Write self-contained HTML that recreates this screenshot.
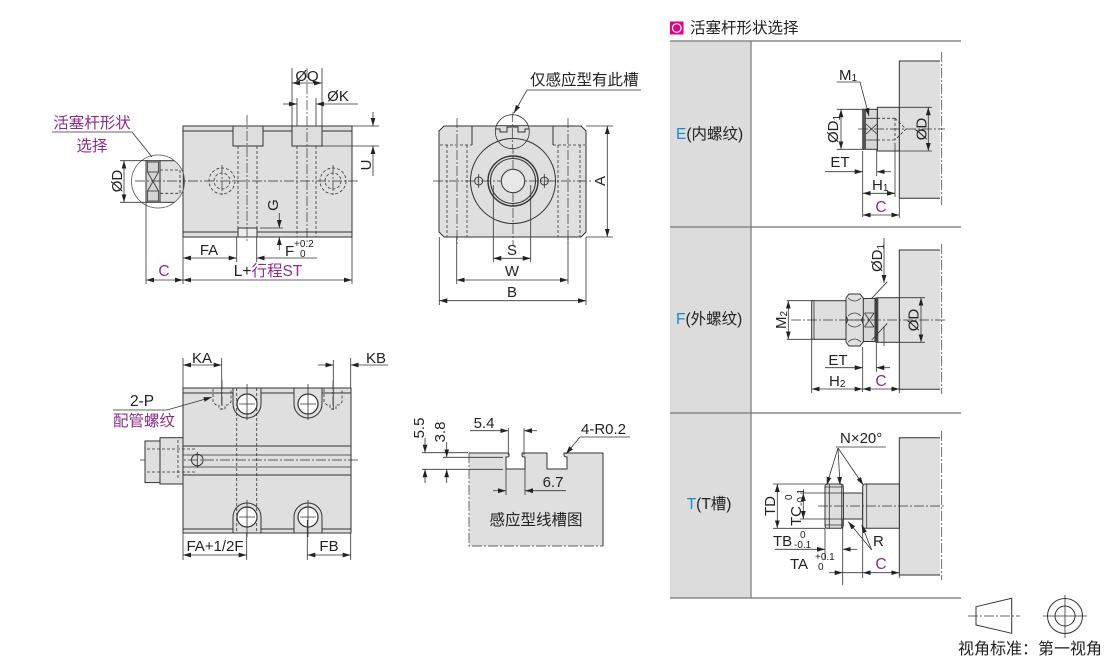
<!DOCTYPE html>
<html><head><meta charset="utf-8"><style>
html,body{margin:0;padding:0;background:#fff;}
svg{display:block;}
text{font-family:"Liberation Sans","Noto Sans CJK SC",sans-serif;font-size:15px;fill:#222;}
.cj{font-size:15.5px;}
.p{fill:#8c2d8c;}
.b{fill:#1a8ad0;}
.o{stroke:#333;stroke-width:1;fill:none;}
.g{fill:#dfdfdf;stroke:#333;stroke-width:1;}
.d{stroke:#333;stroke-width:0.8;fill:none;}
.dash{stroke:#333;stroke-width:0.8;stroke-dasharray:3 2;fill:none;}
.cl{stroke:#333;stroke-width:0.7;stroke-dasharray:10 2 2 2;fill:none;}
.ar{marker-end:url(#a);}
.ar2{marker-start:url(#a);marker-end:url(#a);}
.s{font-size:10px;}
</style></head><body>
<svg width="1110" height="659" viewBox="0 0 1110 659" xmlns="http://www.w3.org/2000/svg">
<defs>
<marker id="a" viewBox="0 0 8 6" refX="8" refY="3" markerWidth="8" markerHeight="6" orient="auto-start-reverse" markerUnits="userSpaceOnUse"><path d="M0,0.6 L8,3 L0,5.4z" fill="#222"/></marker>
<clipPath id="mag"><circle cx="158" cy="181.5" r="26.5"/></clipPath>
<clipPath id="mag2"><circle cx="512.3" cy="131.7" r="17"/></clipPath>
</defs>

<!-- ============ TOP-LEFT SIDE VIEW ============ -->
<rect x="183" y="126" width="169" height="111" class="g"/>
<path class="o" d="M183,131H233 M263,131H292 M322,131H352 M183,232H238 M257,232H352"/>
<rect x="233" y="126" width="30" height="20" class="g"/>
<rect x="292" y="126" width="30" height="20" class="g"/>
<rect x="238" y="228" width="19" height="9" fill="#ececec" stroke="#333"/>
<path class="dash" d="M238,146V228 M257,146V228 M297,146V237 M316,146V237"/>
<path class="cl" d="M247,115V242 M307,68V242 M140,181H358 M222,165V197 M333,165V197"/>
<circle cx="222" cy="181" r="13" class="dash"/><circle cx="222" cy="181" r="8" class="dash"/>
<circle cx="333" cy="181" r="13" class="dash"/><circle cx="333" cy="181" r="8" class="dash"/>
<!-- magnifier -->
<circle cx="158" cy="181.5" r="26.5" fill="#fff"/>
<g clip-path="url(#mag)">
<rect x="183" y="150" width="10" height="70" fill="#dfdfdf"/>
<line x1="183.3" y1="150" x2="183.3" y2="215" class="o"/>
<rect x="146" y="160.7" width="14" height="41.6" fill="#d4d4d4" stroke="#333"/>
<rect x="147.5" y="162" width="11" height="10" fill="none" stroke="#333" stroke-width="0.8"/>
<rect x="147.5" y="191" width="11" height="10" fill="none" stroke="#333" stroke-width="0.8"/>
<path class="d" d="M147.5,172L158.5,191 M158.5,172L147.5,191"/>
<rect x="160" y="160.7" width="23.3" height="41.6" fill="#dfdfdf" stroke="#333"/>
<path class="dash" d="M160,170H180V193.3H160"/>
<path class="d" d="M183,172 Q190,181 183,191"/>
<path class="cl" d="M135,181H190"/>
</g>
<circle cx="158" cy="181.5" r="26.5" fill="none" stroke="#555" stroke-width="0.8"/>
<text x="92" y="128" text-anchor="middle" class="cj p">活塞杆形状</text>
<text x="92" y="151" text-anchor="middle" class="cj p">选择</text>
<path class="d" d="M52,132H132L152,157"/>
<!-- ØD -->
<path class="d" d="M120,160.7H148 M120,202.3H148"/>
<line x1="124" y1="160.7" x2="124" y2="202.3" class="d ar2"/>
<text transform="translate(122,181) rotate(-90)" text-anchor="middle">ØD</text>
<!-- U -->
<path class="d" d="M352,126H379 M322,146H379"/>
<line x1="373" y1="112" x2="373" y2="126" class="d ar"/>
<line x1="373" y1="176" x2="373" y2="146" class="d ar"/>
<text transform="translate(371,165) rotate(-90)" text-anchor="middle">U</text>
<!-- ØQ / ØK -->
<path class="d" d="M292,68V126 M322,68V126"/>
<line x1="292" y1="83" x2="322" y2="83" class="d ar2"/>
<text x="307" y="81" text-anchor="middle">ØQ</text>
<path class="d" d="M297,98V126 M316,98V126"/>
<line x1="283" y1="104" x2="297" y2="104" class="d ar"/>
<line x1="358" y1="104" x2="316" y2="104" class="d ar"/>
<text x="338" y="101" text-anchor="middle">ØK</text>
<!-- G / F -->
<text transform="translate(278,205) rotate(-90)" text-anchor="middle">G</text>
<line x1="279.3" y1="213" x2="279.3" y2="228" class="d ar"/>
<line x1="279.3" y1="250" x2="279.3" y2="237" class="d ar"/>
<path class="d" d="M260,228H283"/>
<text x="285" y="256">F</text>
<text x="294" y="247" class="s">+0.2</text>
<text x="300" y="257" class="s">0</text>
<!-- FA -->
<path class="d" d="M236.7,237V262 M256.7,237V262"/>
<line x1="183" y1="258" x2="236.7" y2="258" class="d ar2"/>
<text x="209" y="255" text-anchor="middle">FA</text>
<line x1="317" y1="258" x2="256.7" y2="258" class="d ar"/>
<!-- L+ST, C -->
<path class="d" d="M146,203V284 M183,237V284 M352,237V284"/>
<line x1="183" y1="280" x2="352" y2="280" class="d ar2"/>
<line x1="146" y1="280" x2="183" y2="280" class="d ar2"/>
<text x="268" y="276" text-anchor="middle" style="font-size:15.5px">L+<tspan class="p">行程ST</tspan></text>
<text x="164" y="276" text-anchor="middle" class="p" style="font-size:15.5px">C</text>

<!-- ============ FRONT VIEW ============ -->
<path class="g" d="M444,126H581L586,131V232L581,237H444L439,232V131Z"/>
<path class="dash" d="M447,145V237 M467,145V237 M440,145H472 M558,145V237 M580,145V237 M553,145H585"/>
<path class="o" d="M472,126V145 M553,126V145"/>
<path class="cl" d="M457,118V245 M568,118V245 M433,181H593 M513,112V246"/>
<circle cx="513" cy="181" r="42.5" class="o"/>
<circle cx="513" cy="181" r="25" fill="none" stroke="#333" stroke-width="1.4"/>
<circle cx="513" cy="181" r="22.5" class="o"/>
<circle cx="513" cy="181" r="11.7" fill="#e8e8e8" stroke="#333"/>
<circle cx="478.7" cy="181" r="4" class="o"/>
<circle cx="544.3" cy="181" r="4" class="o"/>
<path class="d" d="M478.7,174V188 M544.3,174V188"/>
<!-- slot magnifier -->
<circle cx="512.3" cy="131.7" r="17" fill="#fff"/>
<g clip-path="url(#mag2)">
<rect x="490" y="126" width="45" height="30" fill="#dfdfdf"/>
<path class="o" d="M494,134 V129 H500 V132 H507 V127 H518 V132 H525 V129 H531 V134" fill="#fff"/>
<line x1="490" y1="125.7" x2="535" y2="125.7" class="o"/>
<circle cx="513" cy="181" r="42.5" class="o"/>
<path class="cl" d="M512.3,112V150"/>
</g>
<circle cx="512.3" cy="131.7" r="17" fill="none" stroke="#333" stroke-width="0.8"/>
<text x="530" y="85" class="cj">仅感应型有此槽</text>
<path class="d ar" d="M641,90H527L514,113"/>
<!-- A -->
<path class="d" d="M586,126H613 M586,237H613"/>
<line x1="607.3" y1="126" x2="607.3" y2="237" class="d ar2"/>
<text transform="translate(605,181) rotate(-90)" text-anchor="middle">A</text>
<!-- S W B -->
<path class="d" d="M493.3,185V262 M530.7,185V262 M456.7,237V284 M568,237V284 M439.3,237V305 M586,237V305"/>
<line x1="493.3" y1="258.3" x2="530.7" y2="258.3" class="d ar2"/>
<text x="512" y="255" text-anchor="middle">S</text>
<line x1="456.7" y1="280" x2="568" y2="280" class="d ar2"/>
<text x="512" y="276" text-anchor="middle">W</text>
<line x1="439.3" y1="300.7" x2="586" y2="300.7" class="d ar2"/>
<text x="512" y="297" text-anchor="middle">B</text>

<!-- ============ BOTTOM VIEW ============ -->
<rect x="183" y="388" width="168" height="145" class="g"/>
<path class="o" d="M183,393H233 M261,393H294 M322,393H351 M183,529H233 M261,529H294 M322,529H351"/>
<path class="o" d="M183,446H351 M183,475H351" />
<path class="d" d="M183,455H351 M183,467H351"/>
<path class="cl" d="M140,460H358"/>
<path class="dash" d="M236.7,388V533 M256.7,388V533"/>
<!-- bosses -->
<path class="o" fill="#e6e6e6" d="M233,388V404A14,14 0 0 0 261,404V388"/>
<path class="o" fill="#e6e6e6" d="M294,388V404A14,14 0 0 0 322,404V388"/>
<path class="o" fill="#e6e6e6" d="M233,533V517A14,14 0 0 1 261,517V533"/>
<path class="o" fill="#e6e6e6" d="M294,533V517A14,14 0 0 1 322,517V533"/>
<circle cx="247" cy="404" r="10" fill="#fff" stroke="#333" stroke-width="1.2"/>
<circle cx="308" cy="404" r="10" fill="#fff" stroke="#333" stroke-width="1.2"/>
<circle cx="247" cy="517" r="10" fill="#fff" stroke="#333" stroke-width="1.2"/>
<circle cx="308" cy="517" r="10" fill="#fff" stroke="#333" stroke-width="1.2"/>
<path class="d" d="M247,396V412 M239,404H255 M308,396V412 M300,404H316 M247,509V525 M239,517H255 M308,509V525 M300,517H316 M247,384V420 M308,384V420 M247,500V537 M308,500V537"/>
<!-- ports -->
<path class="dash" d="M213,389V402L216,405H219V409H225V405H228L231,402V389"/>
<path class="dash" d="M324,389V402L327,405H330V409H336V405H339L342,402V389"/>
<path class="cl" d="M222,380V412 M333,380V412"/>
<!-- rod -->
<rect x="160" y="437.7" width="23" height="46.3" class="g"/>
<rect x="145" y="441" width="15" height="41.6" class="g"/>
<path class="dash" d="M147,449H195 M147,472H195 M178,440V480"/>
<circle cx="197.3" cy="460" r="5.8" class="o"/>
<path class="d" d="M197.3,452V468"/>
<!-- KA KB -->
<path class="d" d="M183,358V388 M221.7,358V405 M333.3,360V410 M350.7,358V388"/>
<line x1="183" y1="365" x2="221.7" y2="365" class="d ar2"/>
<text x="202" y="363" text-anchor="middle">KA</text>
<line x1="318" y1="365" x2="333.3" y2="365" class="d ar"/>
<line x1="388" y1="365" x2="350.7" y2="365" class="d ar"/>
<text x="376" y="363" text-anchor="middle">KB</text>
<!-- 2-P -->
<text x="142" y="406" text-anchor="middle" style="font-size:15.5px">2-P</text>
<text x="113" y="426" class="cj p">配管螺纹</text>
<path class="d ar" d="M113,410H167L211.7,397.3"/>
<!-- FA+1/2F FB -->
<path class="d" d="M183,533V560 M246.7,533V560 M307.3,520V560 M350.7,533V560"/>
<line x1="183" y1="555" x2="246.7" y2="555" class="d ar2"/>
<text x="215" y="551" text-anchor="middle">FA+1/2F</text>
<line x1="307.3" y1="555" x2="350.7" y2="555" class="d ar2"/>
<text x="329" y="551" text-anchor="middle">FB</text>

<!-- ============ SLOT SECTION ============ -->
<path fill="#dfdfdf" d="M469,453H509V457H506V469H525V457H522V453H547V469H567V457L564,455V453H603V546H469Z"/>
<path class="o" d="M469,453H508Q509,453 509,455V456Q509,457 507,457H506V469H525V457H524Q522,457 522,455V453H547V469H567V457Q564,457 564,455V453H603V546"/>
<path class="cl" d="M469,453V546H603"/>
<path class="d" d="M422,452.7H468 M443,457.3H503 M422,469.3H503"/>
<line x1="425" y1="438" x2="425" y2="452.7" class="d ar"/>
<line x1="425" y1="483" x2="425" y2="469.3" class="d ar"/>
<text transform="translate(424,428) rotate(-90)" text-anchor="middle">5.5</text>
<line x1="446.7" y1="442" x2="446.7" y2="457.3" class="d ar"/>
<line x1="446.7" y1="483" x2="446.7" y2="469.3" class="d ar"/>
<text transform="translate(445,432) rotate(-90)" text-anchor="middle">3.8</text>
<path class="d" d="M508.3,428V455 M524,428V455 M506,457V495 M525,457V495"/>
<line x1="470" y1="430.7" x2="508.3" y2="430.7" class="d ar"/>
<line x1="537" y1="430.7" x2="524" y2="430.7" class="d ar"/>
<text x="484" y="428" text-anchor="middle">5.4</text>
<line x1="493" y1="490.7" x2="506" y2="490.7" class="d ar"/>
<line x1="566" y1="490.7" x2="525" y2="490.7" class="d ar"/>
<text x="553" y="487" text-anchor="middle">6.7</text>
<text x="581" y="434">4-R0.2</text>
<path class="d ar" d="M630,437H580L566,454"/>
<text x="536" y="525" text-anchor="middle" class="cj">感应型线槽图</text>

<!-- ============ RIGHT TABLE ============ -->
<rect x="670" y="21.5" width="13.5" height="13" fill="#e5007e"/>
<circle cx="676.8" cy="28" r="4.3" fill="none" stroke="#fff" stroke-width="1.2"/>
<text x="690" y="33" class="cj">活塞杆形状选择</text>
<rect x="670" y="41" width="81" height="557" fill="#dcdcdc"/>
<path stroke="#888" stroke-width="1.5" fill="none" d="M670,41H961 M670,227H961 M670,413H961 M670,598H961"/>
<path stroke="#777" stroke-width="1.2" d="M751,41V598"/>
<text x="676" y="139" class="cj"><tspan class="b">E</tspan>(内螺纹)</text>
<text x="676" y="324" class="cj"><tspan class="b">F</tspan>(外螺纹)</text>
<text x="686.7" y="509" class="cj"><tspan class="b">T</tspan>(T槽)</text>

<!-- Row E -->
<path fill="#dfdfdf" d="M899.3,61H940V198.3H899.3Z"/>
<path class="o" d="M940,61H899.3V198.3H940"/>
<path class="cl" d="M941.7,52V205"/>
<rect x="877.3" y="107.3" width="22" height="43.7" class="g"/>
<rect x="862.7" y="109.3" width="14.6" height="40" fill="#d8d8d8" stroke="#333"/>
<rect x="862.7" y="109.3" width="3.3" height="40" fill="#555"/>
<path class="d" d="M866,118.3H877 M866,140H877 M866,124L877,134 M877,124L866,134"/>
<path class="dash" d="M877,118.3H897 M877,140H897 M895,118.3L906,129L895,140 M895,118V140"/>
<path class="cl" d="M858,129H945"/>
<path class="d" d="M836.7,109.3H864 M836.7,149.3H864"/>
<line x1="841" y1="109.3" x2="841" y2="149.3" class="d ar2"/>
<text transform="translate(838,129) rotate(-90)" text-anchor="middle">ØD<tspan class="s" dy="2">1</tspan></text>
<path class="d" d="M899.3,107.3H932 M899.3,151H932"/>
<line x1="928.3" y1="107.3" x2="928.3" y2="151" class="d ar2"/>
<text transform="translate(926.5,129) rotate(-90)" text-anchor="middle">ØD</text>
<text x="839" y="80">M<tspan class="s" dy="1">1</tspan></text>
<path class="d ar" d="M836.7,82H860L869,116"/>
<path class="d" d="M862.7,151V217 M876.7,149V176 M895,143V197 M899.3,198.3V218"/>
<line x1="825" y1="171.7" x2="862.7" y2="171.7" class="d ar"/>
<line x1="891" y1="171.7" x2="876.7" y2="171.7" class="d ar"/>
<text x="840" y="167" text-anchor="middle">ET</text>
<line x1="862.7" y1="193.3" x2="895" y2="193.3" class="d ar2"/>
<text x="872" y="190">H<tspan class="s" dy="1">1</tspan></text>
<line x1="862.7" y1="215" x2="899.3" y2="215" class="d ar2"/>
<text x="881" y="212" text-anchor="middle" class="p" style="font-size:15.5px">C</text>

<!-- Row F -->
<path fill="#dfdfdf" d="M899.3,250H940V389.3H899.3Z"/>
<path class="o" d="M940,250H899.3V389.3H940"/>
<path class="cl" d="M941.7,244V394"/>
<rect x="876.7" y="297.7" width="22.6" height="44.6" class="g"/>
<rect x="875" y="297.7" width="3.3" height="44.6" fill="#444"/>
<rect x="863" y="298.5" width="12" height="43" fill="#d8d8d8" stroke="#333"/>
<path class="d" d="M864.5,313H874 M864.5,327H874 M864.5,313L874,327 M874,313L864.5,327"/>
<path class="g" d="M849,294H860L863.3,298V316L861.5,320L863.3,324V342L860,346H849L846,342V324L847.8,320L846,316V298Z"/>
<path class="d" d="M847.8,320H861.5 M848,298Q854.5,304 861,298 M848,316Q854.5,310 861,316 M848,324Q854.5,330 861,324 M848,342Q854.5,336 861,342"/>
<rect x="811.7" y="300.7" width="34.3" height="38.6" class="g"/>
<path class="d" d="M814,300.7V339.3"/>
<path class="cl" d="M791,320H945"/>
<path class="d" d="M786.7,300.7H813 M786.7,339.3H813"/>
<line x1="788.3" y1="300.7" x2="788.3" y2="339.3" class="d ar2"/>
<text transform="translate(786,320) rotate(-90)" text-anchor="middle">M<tspan class="s" dy="1">2</tspan></text>
<line x1="884" y1="238" x2="884" y2="283" class="d ar"/>
<text transform="translate(882,258) rotate(-90)" text-anchor="middle">ØD<tspan class="s" dy="2">1</tspan></text>
<path class="d" d="M871.7,298.3L887.3,281.7 M871.7,340L887.3,323.3 M884,326V346"/>
<path class="d" d="M899.3,297.7H925 M899.3,342.3H925"/>
<line x1="921" y1="297.7" x2="921" y2="342.3" class="d ar2"/>
<text transform="translate(918.5,320) rotate(-90)" text-anchor="middle">ØD</text>
<path class="d" d="M862.7,347V392 M876.3,342V372 M811.7,339.3V393 M899.3,389.3V393"/>
<line x1="825" y1="367.7" x2="862.7" y2="367.7" class="d ar"/>
<line x1="890" y1="367.7" x2="876.3" y2="367.7" class="d ar"/>
<text x="838" y="365" text-anchor="middle">ET</text>
<line x1="811.7" y1="389" x2="862.7" y2="389" class="d ar2"/>
<text x="829" y="386">H<tspan class="s" dy="1">2</tspan></text>
<line x1="862.7" y1="389" x2="899.3" y2="389" class="d ar2"/>
<text x="881" y="386" text-anchor="middle" class="p" style="font-size:15.5px">C</text>

<!-- Row T -->
<path fill="#dfdfdf" d="M899.3,437.7H940V575H899.3Z"/>
<path class="o" d="M940,437.7H899.3V575H940"/>
<path class="cl" d="M941.7,431V580"/>
<rect x="843.3" y="493" width="19.4" height="26" class="g"/>
<path class="g" d="M865,484H899.3V528.3H865Q862.7,528.3 862.7,525V487.3Q862.7,484 865,484Z"/>
<path class="d" d="M866.7,484V528.3"/>
<path class="g" d="M827,484H841Q843.3,484 843.3,487V525Q843.3,528.3 841,528.3H827Q825,528.3 825,525V487Q825,484 827,484Z"/>
<path class="d" d="M829.3,484V528.3 M841.7,484V528.3 M825,487H843.3 M825,525H843.3"/>
<path class="cl" d="M818,506H945"/>
<path class="d" d="M773,484H825 M773,528.3H825"/>
<line x1="777.3" y1="484" x2="777.3" y2="528.3" class="d ar2"/>
<text transform="translate(775,506) rotate(-90)" text-anchor="middle">TD</text>
<path class="d" d="M800,493H843 M800,519H843"/>
<line x1="803.3" y1="493" x2="803.3" y2="519" class="d ar2"/>
<text transform="translate(801,526) rotate(-90)">TC<tspan class="s" dy="3">-0.1</tspan></text>
<text transform="translate(792,500) rotate(-90)" class="s">0</text>
<text x="840" y="443">N×20°</text>
<path class="d" d="M836,447H886"/>
<line x1="838" y1="448" x2="826.7" y2="485" class="d ar"/>
<line x1="838" y1="448" x2="840" y2="485" class="d ar"/>
<line x1="838" y1="448" x2="863.3" y2="485" class="d ar"/>
<text x="873" y="546">R</text>
<line x1="871.7" y1="550" x2="848.3" y2="521.7" class="d ar"/>
<line x1="871.7" y1="550" x2="861.7" y2="525" class="d ar"/>
<path class="d" d="M825,528.3V560 M842.7,519V585 M862.7,528.3V578 M899.3,575V578"/>
<line x1="775" y1="549.3" x2="825" y2="549.3" class="d ar"/>
<line x1="857" y1="549.3" x2="842.7" y2="549.3" class="d ar"/>
<text x="773" y="546">TB</text>
<text x="800" y="538" class="s">0</text>
<text x="794" y="548" class="s">-0.1</text>
<line x1="829" y1="572.7" x2="842.7" y2="572.7" class="d ar"/>
<line x1="842.7" y1="572.7" x2="862.7" y2="572.7" class="d"/>
<line x1="862.7" y1="572.7" x2="899.3" y2="572.7" class="d ar2"/>
<text x="790" y="569">TA</text>
<text x="815" y="560" class="s">+0.1</text>
<text x="818" y="570" class="s">0</text>
<text x="881" y="569" text-anchor="middle" class="p" style="font-size:15.5px">C</text>

<!-- ============ VIEW SYMBOL ============ -->
<path class="o" d="M976,606.7L1011.7,598.3V633.3L976,625Z"/>
<path class="cl" d="M968,616H1020"/>
<circle cx="1065" cy="616" r="17.5" class="o"/>
<circle cx="1065" cy="616" r="10" class="o"/>
<path class="d" d="M1043,616H1087 M1065,595V638"/>
<text x="958" y="654" style="font-size:16px">视角标准：第一视角</text>
</svg>
</body></html>
